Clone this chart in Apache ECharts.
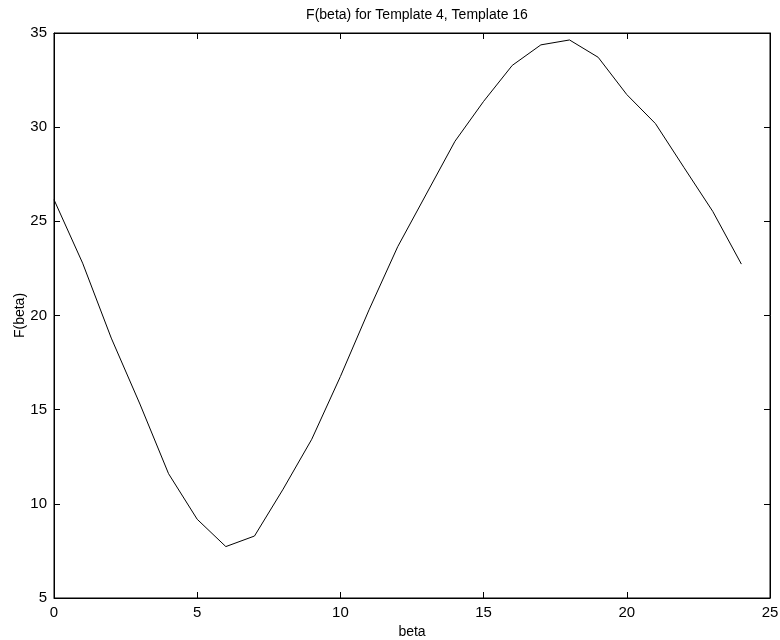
<!DOCTYPE html>
<html><head><meta charset="utf-8">
<script src="https://cdn.jsdelivr.net/npm/echarts@6/dist/echarts.min.js"></script>
<style>html,body{margin:0;padding:0;background:#fff}#c{width:780px;height:640px}</style>
</head><body><div id="c"></div>
<script>
const betaValues = [0,1,2,3,4,5,6,7,8,9,10,11,12,13,14,15,16,17,18,19,20,21,22,23,24];
const fValues = [26.15,22.78,18.8,15.3,11.6,9.18,7.73,8.29,10.78,13.43,16.76,20.3,23.65,26.45,29.25,31.37,33.28,34.37,34.63,33.71,31.73,30.19,27.85,25.53,22.73];
const titleText = 'F(beta) for Template 4, Template 16';
const xName = 'beta';
const yName = 'F(beta)';

const chart = echarts.init(document.getElementById('c'), null, {renderer:'canvas'});
const font = 'Liberation Sans, Arial, sans-serif';
function axisCommon(){
  return {
    axisLine:{show:true,onZero:false,lineStyle:{color:'#000',width:1}},
    axisTick:{show:true,inside:true,length:6,lineStyle:{color:'#000'}},
    splitLine:{show:false}
  };
}
chart.setOption({
  animation:false,
  title:{text:titleText,left:412,top:3,textAlign:'center',textStyle:{fontFamily:font,fontSize:14,fontWeight:'normal',color:'#000'}},
  grid:{left:54,right:10,top:33,bottom:42,show:true,borderColor:'#000',borderWidth:1,containLabel:false,outerBoundsMode:'none'},
  xAxis:[
    Object.assign({type:'value',min:0,max:25,interval:5,position:'bottom',name:xName,nameLocation:'middle',nameGap:27,nameMoveOverlap:false,
      nameTextStyle:{fontFamily:font,fontSize:14,color:'#000'},
      axisLabel:{fontFamily:font,fontSize:15,color:'#000',margin:7}},axisCommon()),
    Object.assign({type:'value',min:0,max:25,interval:5,position:'top',axisLabel:{show:false}},axisCommon())
  ],
  yAxis:[
    Object.assign({type:'value',min:5,max:35,interval:5,position:'left',name:yName,nameLocation:'middle',nameGap:27,nameMoveOverlap:false,
      nameTextStyle:{fontFamily:font,fontSize:14,color:'#000'},
      axisLabel:{fontFamily:font,fontSize:15,color:'#000',margin:7}},axisCommon()),
    Object.assign({type:'value',min:5,max:35,interval:5,position:'right',axisLabel:{show:false}},axisCommon())
  ],
  series:[{type:'line',data:betaValues.map((b,i)=>[b,fValues[i]]),showSymbol:false,
    lineStyle:{color:'#000',width:1},xAxisIndex:0,yAxisIndex:0}]
});
</script></body></html>
